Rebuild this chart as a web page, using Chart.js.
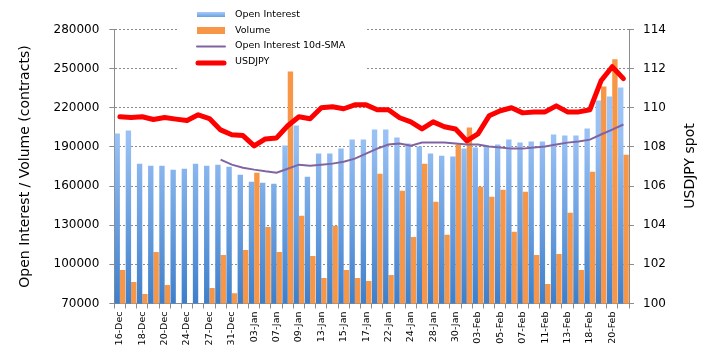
<!DOCTYPE html>
<html>
<head>
<meta charset="utf-8">
<script src="https://cdn.jsdelivr.net/npm/chart.js@4.4.1/dist/chart.umd.min.js"></script>
<style>
  html, body { margin: 0; padding: 0; background: #fff; }
  #wrap { width: 708px; height: 361px; }
</style>
</head>
<body>
<div id="wrap"><canvas id="chart" width="708" height="361"></canvas></div>
<script>
const categories = [
    '16-Dec', '17-Dec', '18-Dec', '19-Dec', '20-Dec', '23-Dec', '24-Dec', '26-Dec', '27-Dec', '30-Dec', '31-Dec',
    '02-Jan', '03-Jan', '06-Jan', '07-Jan', '08-Jan', '09-Jan', '10-Jan', '13-Jan', '14-Jan', '15-Jan', '16-Jan',
    '17-Jan', '21-Jan', '22-Jan', '23-Jan', '24-Jan', '27-Jan', '28-Jan', '29-Jan', '30-Jan', '31-Jan',
    '03-Feb', '04-Feb', '05-Feb', '06-Feb', '07-Feb', '10-Feb', '11-Feb', '12-Feb', '13-Feb', '14-Feb',
    '18-Feb', '19-Feb', '20-Feb', '21-Feb'
];
const openInterest = [
    200300, 202600, 177200, 175600, 175600, 172600, 173300, 177200, 175600, 176400, 174900,
    168700, 163300, 162600, 161800, 191000, 206400, 167200, 184900, 184900, 188700, 195600,
    195600, 203300, 203300, 197200, 192600, 190300, 184900, 183300, 182600, 188700,
    189500, 190300, 191800, 195600, 193300, 194100, 194100, 199500, 198700, 198700,
    204100, 225600, 228700, 235600
];
const volume = [
    95600, 86400, 77200, 109500, 84100, 62000, 55000, 60000, 81800, 107200, 77900,
    111000, 170300, 128700, 109500, 247800, 137200, 106400, 89500, 129500, 95600, 89500,
    87200, 169500, 91800, 156400, 121000, 177200, 147900, 122600, 191800, 204900,
    159500, 151800, 157200, 124900, 155600, 107200, 84900, 107900, 139500, 95600,
    171000, 236400, 257200, 184100
];
const oiSma = [
    null, null, null, null, null, null, null, null, null, 180300, 176400,
    174100, 172600, 171300, 170300, 173300, 176400, 175600, 176400, 177200, 178700, 181000,
    184900, 188700, 191800, 192600, 191000, 193300, 193300, 193300, 192600, 191800,
    191800, 190300, 189500, 188700, 188700, 189500, 190300, 191800, 193300, 194100,
    195600, 199500, 203300, 207200
];
const usdjpy = [
    109.54, 109.50, 109.54, 109.40, 109.50, 109.42, 109.35, 109.64, 109.45, 108.87, 108.62,
    108.58, 108.05, 108.41, 108.46, 109.08, 109.54, 109.44, 110.00, 110.05, 109.95, 110.15,
    110.15, 109.90, 109.90, 109.49, 109.28, 108.92, 109.28, 109.03, 108.92, 108.31,
    108.67, 109.59, 109.85, 110.00, 109.74, 109.79, 109.79, 110.10, 109.79, 109.79,
    109.90, 111.38, 112.10, 111.49
];
const leftTicks = [70000, 100000, 130000, 160000, 190000, 220000, 250000, 280000];
const rightTicks = [100, 102, 104, 106, 108, 110, 112, 114];

const axisGray = '#8c8c8c';
const tickFont = { family: 'DejaVu Sans', size: 12 };

function blueFill(c) {
    const area = c.chart.chartArea;
    if (!area) return '#8ab8f0';
    const g = c.chart.ctx.createLinearGradient(0, area.top, 0, area.bottom);
    g.addColorStop(0, '#a8cbf9');
    g.addColorStop(0.4, '#98c0f4');
    g.addColorStop(1, '#3e7fcb');
    return g;
}

// legend box in the top of the plot, plus the right axis title reading upwards
const overlay = {
    id: 'overlay',
    afterDraw(chart) {
        const ctx = chart.ctx;
        ctx.save();
        ctx.fillStyle = '#fff';
        ctx.fillRect(177, 0, 190, 71);

        const g = ctx.createLinearGradient(0, 12, 0, 17);
        g.addColorStop(0, '#a8cbf9');
        g.addColorStop(1, '#6a9ee0');
        ctx.fillStyle = g;
        ctx.fillRect(197, 12, 28, 5);
        ctx.fillStyle = '#f79646';
        ctx.fillRect(197, 27, 28, 7);

        ctx.lineCap = 'round';
        ctx.strokeStyle = '#8064a2';
        ctx.lineWidth = 2;
        ctx.beginPath(); ctx.moveTo(197, 46.5); ctx.lineTo(225, 46.5); ctx.stroke();
        ctx.strokeStyle = '#ff0000';
        ctx.lineWidth = 5;
        ctx.beginPath(); ctx.moveTo(198, 63); ctx.lineTo(224, 63); ctx.stroke();

        ctx.fillStyle = '#000';
        ctx.font = '9.5px "DejaVu Sans"';
        ctx.textBaseline = 'middle';
        ctx.textAlign = 'left';
        ctx.fillText('Open Interest', 235, 14.5);
        ctx.fillText('Volume', 235, 30.5);
        ctx.fillText('Open Interest 10d-SMA', 235, 46);
        ctx.fillText('USDJPY', 235, 62);

        ctx.translate(690.5, 166);
        ctx.rotate(-Math.PI / 2);
        ctx.textAlign = 'center';
        ctx.font = '14px "DejaVu Sans"';
        ctx.fillText('USDJPY spot', 0, 0);
        ctx.restore();
    }
};

const chart = new Chart(document.getElementById('chart').getContext('2d'), {
    type: 'bar',
    data: {
        labels: categories,
        datasets: [
            {
                type: 'line', label: 'USDJPY', data: usdjpy, yAxisID: 'y1',
                borderColor: '#ff0000', borderWidth: 5, pointRadius: 0,
                borderJoinStyle: 'round', borderCapStyle: 'round', order: 0
            },
            {
                type: 'line', label: 'Open Interest 10d-SMA', data: oiSma, yAxisID: 'y',
                borderColor: '#8064a2', borderWidth: 2, pointRadius: 0, order: 1
            },
            { label: 'Open Interest', data: openInterest, backgroundColor: blueFill, yAxisID: 'y', order: 2, clip: 0 },
            { label: 'Volume', data: volume, backgroundColor: '#f79646', yAxisID: 'y', order: 2, clip: 0 }
        ]
    },
    options: {
        responsive: false,
        animation: false,
        layout: { padding: { top: 29.5, left: 0, right: 0, bottom: 0 } },
        datasets: { bar: { categoryPercentage: 0.96, barPercentage: 1 } },
        plugins: {
            legend: { display: false },
            tooltip: { enabled: false }
        },
        scales: {
            x: {
                grid: { offset: true, drawOnChartArea: false, color: axisGray, tickLength: 5 },
                border: { color: axisGray },
                ticks: {
                    autoSkip: false, minRotation: 90, maxRotation: 90, padding: 3, color: '#000',
                    font: { family: 'DejaVu Sans', size: 9.5 },
                    callback: (v, i) => (i % 2 === 0 ? categories[i] : '')
                },
                afterFit: s => { s.height = 57.5; }
            },
            y: {
                position: 'left',
                min: leftTicks[0],
                max: leftTicks[leftTicks.length - 1],
                ticks: {
                    stepSize: leftTicks[1] - leftTicks[0], padding: 10, color: '#000', font: tickFont,
                    callback: v => String(v)
                },
                grid: { color: '#8a8a8a', tickColor: axisGray, tickLength: 5 },
                border: { color: axisGray, dash: [2, 2] },
                title: {
                    display: true, text: 'Open Interest / Volume (contracts)', color: '#000',
                    font: { family: 'DejaVu Sans', size: 14 }, padding: { top: 16.5, bottom: 0 }
                },
                afterFit: s => { s.width = 114.3; }
            },
            y1: {
                position: 'right',
                min: rightTicks[0],
                max: rightTicks[rightTicks.length - 1],
                ticks: { stepSize: rightTicks[1] - rightTicks[0], padding: 9, color: '#000', font: tickFont },
                grid: { drawOnChartArea: false, tickColor: axisGray, tickLength: 5 },
                border: { color: axisGray },
                afterFit: s => { s.width = 79; }
            }
        }
    },
    plugins: [overlay]
});
</script>
</body>
</html>
